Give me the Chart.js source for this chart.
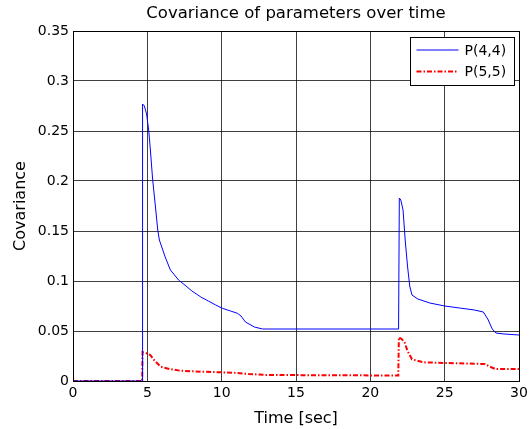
<!DOCTYPE html>
<html>
<head>
<meta charset="utf-8">
<script src="https://cdn.jsdelivr.net/npm/chart.js@4/dist/chart.umd.min.js"></script>
<style>
    html, body { margin: 0; padding: 0; background: #fff; }
    #wrap { width: 529px; height: 429px; position: relative; }
</style>
</head>
<body>
<div id="wrap"><canvas id="cov-chart"></canvas></div>
<script>
// P(4,4) samples: time [sec] and covariance
const p44Time = [0, 4.65, 4.68, 4.8, 4.95, 5.09, 5.2, 5.36, 5.54, 5.7, 5.81, 6.2, 6.55, 7.1, 7.6, 8.0, 8.6, 9.1, 9.6, 10.05, 10.6, 11.06, 11.3, 11.6, 12.2, 12.75, 21.9, 21.95, 22.05, 22.2, 22.35, 22.5, 22.65, 22.8, 23.2, 24, 25, 26, 27, 27.6, 27.9, 28.2, 28.45, 29, 30];
const p44Value = [0, 0, 0.277, 0.275, 0.267, 0.251, 0.232, 0.201, 0.175, 0.151, 0.141, 0.124, 0.111, 0.101, 0.095, 0.090, 0.084, 0.080, 0.076, 0.0727, 0.070, 0.0677, 0.065, 0.059, 0.054, 0.052, 0.052, 0.183, 0.181, 0.171, 0.14, 0.115, 0.095, 0.086, 0.082, 0.078, 0.075, 0.073, 0.071, 0.069, 0.062, 0.052, 0.048, 0.047, 0.046];

// P(5,5) samples
const p55Time = [0, 4.65, 4.68, 4.9, 5.2, 5.5, 5.9, 6.5, 7.2, 8.6, 10.8, 11.8, 13, 21.88, 21.92, 22.1, 22.3, 22.5, 22.8, 23.55, 25, 25.9, 27.7, 28.1, 28.4, 30];
const p55Value = [0, 0, 0.029, 0.028, 0.026, 0.02, 0.0143, 0.012, 0.0103, 0.0093, 0.0083, 0.007, 0.006, 0.0055, 0.0437, 0.042, 0.039, 0.03, 0.0217, 0.0187, 0.018, 0.0177, 0.017, 0.014, 0.012, 0.012];

const xTicks = [0, 5, 10, 15, 20, 25, 30];
const yTicks = [0, 0.05, 0.1, 0.15, 0.2, 0.25, 0.3, 0.35];

const chartTitle = 'Covariance of parameters over time';

const toPoints = (xs, ys) => xs.map((x, i) => ({ x: x, y: ys[i] }));
const FONT = '"DejaVu Sans", Verdana, sans-serif';

// axes box, title centred over the plot, and a legend inside the plot area
const boxAndLegend = {
    id: 'boxAndLegend',
    afterDraw(chart) {
        const { ctx, chartArea: a } = chart;
        ctx.save();
        ctx.strokeStyle = '#000';
        ctx.lineWidth = 1;
        ctx.strokeRect(a.left + 0.5, a.top + 0.5, a.right - a.left, a.bottom - a.top);

        ctx.fillStyle = '#000';
        ctx.font = '16.5px ' + FONT;
        ctx.textAlign = 'center';
        ctx.textBaseline = 'alphabetic';
        ctx.fillText(chartTitle, (a.left + a.right) / 2, 18);

        const bx = a.right - 108.5, by = 37.5, bw = 104, bh = 48;
        ctx.fillStyle = '#fff';
        ctx.fillRect(bx, by, bw, bh);
        ctx.strokeRect(bx, by, bw, bh);
        ctx.font = '14px ' + FONT;
        ctx.textAlign = 'left';
        ctx.textBaseline = 'middle';
        chart.data.datasets.forEach((ds, i) => {
            const ly = by + 12.5 + i * 21.5;
            ctx.strokeStyle = ds.borderColor;
            ctx.lineWidth = ds.borderWidth;
            ctx.setLineDash(ds.borderDash || []);
            ctx.beginPath();
            ctx.moveTo(bx + 6, ly);
            ctx.lineTo(bx + 48, ly);
            ctx.stroke();
            ctx.setLineDash([]);
            ctx.fillStyle = '#000';
            ctx.fillText(ds.label, bx + 54, ly + 1);
        });
        ctx.restore();
    }
};

new Chart(document.getElementById('cov-chart'), {
    type: 'line',
    data: {
        datasets: [
            {
                label: 'P(4,4)',
                data: toPoints(p44Time, p44Value),
                borderColor: '#0000ff',
                borderWidth: 1,
                pointRadius: 0,
                tension: 0,
                fill: false
            },
            {
                label: 'P(5,5)',
                data: toPoints(p55Time, p55Value),
                borderColor: '#ff0000',
                borderWidth: 2,
                borderDash: [5, 2, 1.5, 2],
                pointRadius: 0,
                tension: 0,
                fill: false
            }
        ]
    },
    options: {
        responsive: true,
        maintainAspectRatio: false,
        animation: false,
        layout: { padding: { left: 0, right: 10, top: 31, bottom: 0 } },
        scales: {
            x: {
                type: 'linear',
                min: 0,
                max: 30,
                afterBuildTicks: (s) => { s.ticks = xTicks.map(v => ({ value: v })); },
                afterFit: (s) => { s.height = 48; s.paddingLeft = 0; s.paddingRight = 0; },
                ticks: {
                    color: '#000',
                    font: { family: FONT, size: 14 },
                    padding: 4,
                    maxRotation: 0,
                    callback: (v) => String(v)
                },
                grid: { color: 'rgba(0,0,0,0.75)', lineWidth: 1, drawTicks: false },
                border: { display: false },
                title: {
                    display: true,
                    text: 'Time [sec]',
                    color: '#000',
                    font: { family: FONT, size: 16 },
                    padding: { top: 0, bottom: 1 }
                }
            },
            y: {
                min: 0,
                max: 0.35,
                afterBuildTicks: (s) => { s.ticks = yTicks.map(v => ({ value: v })); },
                afterFit: (s) => { s.width = 73; },
                ticks: {
                    color: '#000',
                    font: { family: FONT, size: 14 },
                    padding: 4,
                    callback: (v) => String(parseFloat(v.toFixed(2)))
                },
                grid: { color: 'rgba(0,0,0,0.75)', lineWidth: 1, drawTicks: false },
                border: { display: false },
                title: {
                    display: true,
                    text: 'Covariance',
                    color: '#000',
                    font: { family: FONT, size: 16 },
                    padding: { top: 11, bottom: 0 }
                }
            }
        },
        plugins: {
            legend: { display: false },
            tooltip: { enabled: false },
            title: { display: false }
        }
    },
    plugins: [boxAndLegend]
});
</script>
</body>
</html>
